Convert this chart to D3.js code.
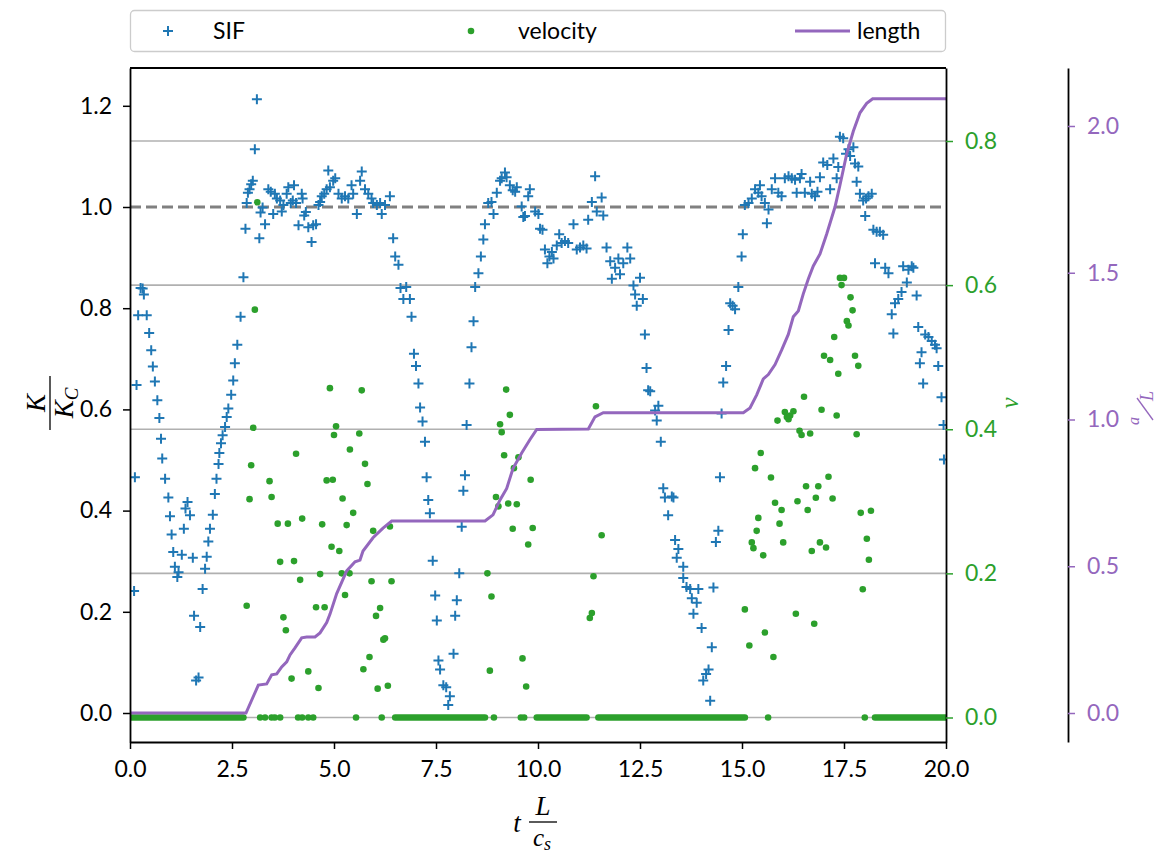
<!DOCTYPE html>
<html>
<head>
<meta charset="UTF-8">
<title>SIF, velocity and crack length</title>
<script src="https://cdnjs.cloudflare.com/ajax/libs/d3/7.8.5/d3.min.js"></script>
<style>
body { margin:0; background:#fff; }
text { font-family: Lato, "DejaVu Sans", sans-serif; font-size:23px; }
.math { font-family: "Liberation Serif", "DejaVu Serif", serif; font-style: italic; }
</style>
</head>
<body>
<div id="chart"></div>
<script>
// ---- data ----
// stress intensity factor K/Kc over time t*L/cs
var sif = [
[0.10,0.241],[0.12,0.466],[0.16,0.648],[0.20,0.786],[0.26,0.840],[0.31,0.839],[0.34,0.827],[0.41,0.786],[0.47,0.751],[0.52,0.717],
[0.56,0.685],[0.61,0.655],[0.67,0.618],[0.72,0.583],[0.76,0.542],[0.79,0.503],[0.86,0.463],[0.94,0.426],[0.98,0.389],[1.02,0.353],
[1.06,0.318],[1.10,0.289],[1.16,0.269],[1.19,0.278],[1.27,0.313],[1.32,0.364],[1.36,0.404],[1.41,0.417],[1.47,0.391],[1.54,0.307],
[1.57,0.192],[1.62,0.064],[1.68,0.070],[1.72,0.170],[1.78,0.245],[1.84,0.285],[1.88,0.309],[1.92,0.339],[1.96,0.364],[2.03,0.392],
[2.08,0.433],[2.12,0.463],[2.17,0.492],[2.19,0.514],[2.23,0.533],[2.27,0.549],[2.33,0.565],[2.37,0.585],[2.41,0.602],[2.48,0.629],
[2.53,0.657],[2.57,0.691],[2.63,0.728],[2.71,0.783],[2.78,0.861],[2.83,0.957],[2.86,1.008],[2.89,1.028],[2.93,1.035],[2.97,1.045],
[3.01,1.052],[3.06,1.114],[3.11,1.213],[3.17,0.938],[3.20,0.989],[3.25,0.999],[3.31,0.966],[3.39,1.035],[3.45,1.030],[3.51,0.986],
[3.55,1.026],[3.60,1.017],[3.68,1.013],[3.72,0.991],[3.76,1.004],[3.84,1.026],[3.88,1.039],[3.94,1.008],[3.99,1.013],[4.02,1.043],
[4.07,1.008],[4.13,0.964],[4.21,1.026],[4.23,1.017],[4.27,0.983],[4.31,0.990],[4.37,0.960],[4.45,0.931],[4.49,0.964],[4.56,0.966],
[4.62,1.004],[4.66,1.010],[4.70,1.021],[4.76,1.026],[4.82,1.035],[4.86,1.072],[4.90,1.039],[4.98,1.052],
[5.03,1.057],[5.11,1.026],[5.19,1.017],[5.27,1.021],[5.35,1.017],[5.43,1.043],[5.47,1.026],[5.56,0.986],[5.64,1.052],[5.68,1.070],
[5.76,1.035],[5.84,1.026],[5.92,1.017],[5.96,1.008],[6.05,1.004],[6.13,1.008],[6.17,0.986],[6.25,1.004],[6.37,1.021],[6.45,0.938],
[6.50,0.902],[6.58,0.886],[6.63,0.840],[6.70,0.818],[6.77,0.842],[6.86,0.818],[6.90,0.783],[6.96,0.710],[7.01,0.686],[7.07,0.651],
[7.11,0.604],[7.17,0.576],[7.23,0.536],[7.27,0.466],[7.31,0.421],[7.35,0.395],[7.42,0.301],[7.48,0.232],[7.52,0.183],[7.56,0.104],
[7.60,0.086],[7.68,0.055],[7.75,0.051],[7.80,0.016],[7.84,0.033],[7.93,0.117],[7.97,0.192],[8.01,0.223],[8.07,0.276],[8.13,0.368],
[8.17,0.439],[8.21,0.470],[8.25,0.569],[8.32,0.651],[8.37,0.723],[8.42,0.774],[8.46,0.842],[8.54,0.869],[8.60,0.902],[8.66,0.936],
[8.70,0.966],[8.78,1.008],[8.86,1.010],[8.91,0.986],[8.99,1.028],[9.07,1.052],[9.11,1.057],[9.19,1.068],[9.23,1.059],[9.31,1.043],
[9.38,1.033],[9.44,1.030],[9.48,1.039],[9.60,1.001],[9.64,0.980],[9.68,0.982],[9.76,1.021],[9.80,1.035],[9.93,0.991],[10.01,0.986],
[10.05,0.957],[10.11,0.955],[10.17,0.916],[10.23,0.889],[10.28,0.902],[10.34,0.911],[10.38,0.898],[10.46,0.924],[10.52,0.946],[10.58,0.929],
[10.66,0.933],[10.74,0.929],[10.87,0.966],[10.95,0.916],[11.03,0.920],[11.11,0.924],[11.19,0.918],[11.23,0.975],[11.32,1.010],[11.40,1.061],
[11.44,0.991],[11.56,1.019],[11.60,0.983],[11.68,0.920],[11.77,0.893],[11.81,0.858],[11.89,0.880],[11.97,0.898],[12.01,0.867],[12.09,0.889],
[12.19,0.920],[12.26,0.898],[12.34,0.845],[12.38,0.827],[12.42,0.805],[12.50,0.860],[12.57,0.818],[12.62,0.748],[12.66,0.682],[12.70,0.638],
[12.75,0.636],[12.87,0.598],[12.91,0.578],[12.95,0.607],[13.01,0.536],[13.07,0.444],[13.11,0.426],[13.19,0.391],[13.28,0.428],[13.32,0.426],
[13.36,0.342],[13.40,0.307],[13.44,0.324],[13.56,0.289],[13.56,0.267],[13.64,0.249],[13.73,0.245],[13.77,0.227],[13.81,0.196],[13.89,0.218],
[13.93,0.245],[14.01,0.168],[14.05,0.064],[14.12,0.077],[14.18,0.086],[14.22,0.024],[14.26,0.130],[14.30,0.248],[14.36,0.338],[14.42,0.360],
[14.46,0.466],[14.50,0.592],[14.54,0.653],[14.61,0.686],[14.67,0.757],[14.71,0.810],[14.77,0.805],[14.83,0.798],[14.91,0.842],
[14.99,0.902],[15.02,0.946],[15.07,1.004],[15.16,1.008],[15.24,1.017],[15.32,1.035],[15.40,1.028],[15.44,1.043],[15.48,1.021],[15.56,1.008],
[15.61,0.968],[15.65,0.995],[15.73,1.035],[15.81,1.057],[15.89,1.028],[15.97,1.021],[16.05,1.057],[16.14,1.061],[16.22,1.057],[16.30,1.054],
[16.34,1.028],[16.42,1.057],[16.46,1.065],[16.54,1.028],[16.67,1.050],[16.71,1.026],[16.79,1.021],[16.85,1.030],[16.91,1.059],[16.99,1.088],
[17.09,1.083],[17.16,1.035],[17.24,1.096],[17.32,1.057],[17.36,1.079],[17.40,1.139],[17.48,1.136],[17.55,1.105],[17.61,1.114],[17.65,1.101],
[17.73,1.118],[17.77,1.086],[17.81,1.050],[17.85,1.080],[17.89,1.026],[17.97,1.013],[18.02,0.982],[18.04,1.017],[18.10,1.021],[18.18,1.026],
[18.22,0.955],[18.26,0.889],[18.30,0.951],[18.38,0.951],[18.46,0.945],[18.51,0.880],[18.59,0.869],[18.67,0.788],[18.71,0.750],[18.75,0.810],
[18.83,0.818],[18.91,0.832],[18.95,0.883],[19.04,0.851],[19.08,0.876],[19.16,0.883],[19.20,0.880],[19.28,0.825],[19.32,0.763],[19.36,0.691],
[19.40,0.713],[19.44,0.651],[19.49,0.748],[19.57,0.743],[19.65,0.735],[19.73,0.728],[19.77,0.721],[19.81,0.686],[19.89,0.624],[19.94,0.569],
[19.95,0.501]
];

// crack tip velocity v (single dots)
var velocity = [
[2.86,0.155],[2.93,0.303],[2.97,0.350],[3.02,0.402],[3.06,0.566],[3.12,0.715],[3.42,0.328],[3.47,0.306],[3.62,0.269],[3.68,0.216],
[3.76,0.139],[3.82,0.121],[3.87,0.269],[3.96,0.054],[4.02,0.217],[4.07,0.366],[4.17,0.191],[4.22,0.276],[4.37,0.064],[4.56,0.153],
[4.62,0.041],[4.66,0.199],[4.71,0.268],[4.77,0.153],[4.82,0.329],
[4.90,0.457],[4.94,0.237],[4.97,0.330],[5.00,0.392],[5.05,0.404],[5.13,0.231],[5.19,0.200],[5.21,0.304],[5.27,0.170],[5.31,0.267],
[5.38,0.200],[5.39,0.372],[5.47,0.284],[5.62,0.394],[5.68,0.454],[5.72,0.067],[5.76,0.352],[5.82,0.324],[5.87,0.084],[5.92,0.189],
[5.96,0.259],[6.03,0.141],[6.07,0.040],[6.13,0.152],[6.21,0.108],[6.25,0.110],[6.32,0.044],[6.37,0.265],[6.41,0.189],
[8.76,0.200],[8.82,0.065],[8.86,0.168],[8.97,0.306],[9.03,0.293],[9.07,0.407],[9.11,0.396],[9.17,0.364],[9.22,0.455],[9.27,0.297],
[9.31,0.420],[9.38,0.262],[9.41,0.346],[9.48,0.296],[9.52,0.361],[9.62,0.082],[9.71,0.043],[9.76,0.240],[9.82,0.330],[9.87,0.263],
[11.27,0.138],[11.32,0.145],[11.36,0.196],[11.42,0.432],[11.56,0.253],
[15.07,0.150],[15.18,0.100],[15.24,0.243],[15.28,0.235],[15.32,0.346],[15.36,0.259],[15.40,0.277],[15.46,0.367],[15.52,0.225],[15.56,0.118],
[15.71,0.333],[15.77,0.084],[15.81,0.298],[15.87,0.412],[15.92,0.269],[15.97,0.288],[16.01,0.243],[16.05,0.424],[16.10,0.417],[16.14,0.414],
[16.18,0.419],[16.26,0.425],[16.32,0.144],[16.36,0.300],[16.41,0.398],[16.46,0.392],[16.52,0.445],[16.57,0.321],[16.61,0.288],[16.67,0.394],
[16.71,0.231],[16.77,0.130],[16.81,0.305],[16.87,0.321],[16.91,0.243],[16.95,0.427],[17.01,0.502],[17.06,0.236],[17.12,0.334],[17.16,0.496],
[17.22,0.304],[17.26,0.528],[17.32,0.419],[17.36,0.477],[17.40,0.610],[17.44,0.600],[17.50,0.610],[17.57,0.550],[17.61,0.544],[17.66,0.583],
[17.71,0.565],[17.77,0.502],[17.81,0.393],[17.85,0.488],[17.91,0.284],[17.96,0.178],[18.06,0.248],[18.11,0.219],[18.16,0.287],
[3.19,0],[3.31,0],[3.47,0],[3.55,0],[3.68,0],[4.12,0],[4.22,0],[4.37,0],[4.49,0],[5.54,0],[6.17,0],[8.92,0],[9.58,0],[9.66,0],[15.64,0],[18.01,0]
];

// time spans where the crack stands still (v = 0 dots packed edge to edge)
var velocityZeroRuns = [[0.00,2.78],[6.50,8.70],[9.97,11.19],[11.48,15.07],[18.26,20.00]];

// crack length a/L
var lengthCurve = [
[0,0],[2.843,0],[3.145,0.095],[3.35,0.099],[3.473,0.130],[3.596,0.133],[3.718,0.157],[3.841,0.174],[3.922,0.198],[4.044,0.222],
[4.208,0.256],[4.331,0.259],[4.534,0.259],[4.657,0.273],[4.821,0.308],[4.902,0.337],[5.066,0.407],[5.311,0.484],[5.515,0.515],[5.637,0.521],
[5.711,0.552],[5.956,0.597],[6.201,0.630],[6.414,0.654],[8.701,0.654],[8.897,0.675],[9.069,0.726],[9.233,0.765],[9.387,0.833],[9.60,0.886],
[9.804,0.932],[9.968,0.966],[11.233,0.968],[11.397,1.009],[11.60,1.023],[15.032,1.023],[15.196,1.039],[15.36,1.084],[15.522,1.138],[15.645,1.153],
[15.81,1.187],[15.973,1.237],[16.135,1.290],[16.257,1.350],[16.38,1.370],[16.502,1.428],[16.625,1.479],[16.748,1.523],[16.912,1.564],[17.076,1.632],
[17.279,1.724],[17.402,1.799],[17.566,1.905],[17.728,1.982],[17.892,2.045],[18.056,2.077],[18.203,2.093],[20,2.093]
];

var xTicks = [0, 2.5, 5, 7.5, 10, 12.5, 15, 17.5, 20];
var kTicks = [0, 0.2, 0.4, 0.6, 0.8, 1.0, 1.2];
var vTicks = [0, 0.2, 0.4, 0.6, 0.8];
var aTicks = [0, 0.5, 1.0, 1.5, 2.0];

// ---- layout ----
var width = 1160, height = 853;
var L = 130, R = 946, T = 68, B = 742;
var blue = "#1f77b4", green = "#2ca02c", purple = "#9467bd";

var x = d3.scaleLinear().domain([0, 20]).range([L, R]);
var yK = d3.scaleLinear().domain([-0.0573, 1.2747]).range([B, T]);
var yV = d3.scaleLinear().domain([-0.034, 0.9013]).range([B, T]);
var yA = d3.scaleLinear().domain([-0.0988, 2.1976]).range([B, T]);

var svg = d3.select("#chart").append("svg").attr("width", width).attr("height", height);

svg.append("defs").append("clipPath").attr("id", "plotclip")
  .append("rect").attr("x", L).attr("y", T).attr("width", R - L).attr("height", B - T);

var plot = svg.append("g").attr("clip-path", "url(#plotclip)");

// grid of the velocity axis
plot.selectAll(".grid").data(vTicks).enter().append("line")
  .attr("x1", L).attr("x2", R)
  .attr("y1", function(d){ return yV(d); }).attr("y2", function(d){ return yV(d); })
  .attr("stroke", "#b0b0b0").attr("stroke-width", 1.6);

// K = Kc reference
plot.append("line")
  .attr("x1", L).attr("x2", R).attr("y1", yK(1)).attr("y2", yK(1))
  .attr("stroke", "#808080").attr("stroke-width", 3).attr("stroke-dasharray", "11,5");

// SIF markers
plot.selectAll(".sif").data(sif).enter().append("path")
  .attr("transform", function(d){ return "translate(" + x(d[0]) + "," + yK(d[1]) + ")"; })
  .attr("d", "M-5,0H5M0,-5V5")
  .attr("stroke", blue).attr("stroke-width", 2).attr("fill", "none");

// velocity: resting spans and single dots
plot.selectAll(".zero").data(velocityZeroRuns).enter().append("line")
  .attr("x1", function(d){ return x(d[0]); }).attr("x2", function(d){ return x(d[1]); })
  .attr("y1", yV(0)).attr("y2", yV(0))
  .attr("stroke", green).attr("stroke-width", 6.6).attr("stroke-linecap", "round");

plot.selectAll(".vel").data(velocity).enter().append("circle")
  .attr("cx", function(d){ return x(d[0]); })
  .attr("cy", function(d){ return yV(d[1]); })
  .attr("r", 3.3).attr("fill", green);

// crack length
var line = d3.line().x(function(d){ return x(d[0]); }).y(function(d){ return yA(d[1]); });
plot.append("path").datum(lengthCurve)
  .attr("d", line).attr("fill", "none").attr("stroke", purple).attr("stroke-width", 3);

// ---- axes ----
function styleAxis(g, col, textCol) {
  g.select(".domain").attr("stroke", "#000").attr("stroke-width", 1.8);
  g.selectAll(".tick line").attr("stroke", col).attr("stroke-width", 1.5);
  g.selectAll(".tick text").attr("fill", textCol).style("font-size", "23px")
    .style("font-family", "Lato, 'DejaVu Sans', sans-serif");
}
var f1 = d3.format(".1f");

var gx = svg.append("g").attr("transform", "translate(0," + B + ")")
  .call(d3.axisBottom(x).tickValues(xTicks).tickFormat(f1).tickSize(7).tickSizeOuter(0).tickPadding(12));
styleAxis(gx, "#000", "#000");

var gk = svg.append("g").attr("transform", "translate(" + L + ",0)")
  .call(d3.axisLeft(yK).tickValues(kTicks).tickFormat(f1).tickSize(7).tickSizeOuter(0).tickPadding(11));
styleAxis(gk, "#000", "#000");

var gv = svg.append("g").attr("transform", "translate(" + R + ",0)")
  .call(d3.axisRight(yV).tickValues(vTicks).tickFormat(f1).tickSize(7).tickSizeOuter(0).tickPadding(12));
styleAxis(gv, green, green);

var ga = svg.append("g").attr("transform", "translate(1068,0)")
  .call(d3.axisRight(yA).tickValues(aTicks).tickFormat(f1).tickSize(7).tickSizeOuter(0).tickPadding(12));
styleAxis(ga, purple, purple);

svg.append("line").attr("x1", L).attr("x2", R).attr("y1", T).attr("y2", T)
  .attr("stroke", "#000").attr("stroke-width", 1.8);

// ---- axis labels ----
var kl = svg.append("g").attr("transform", "translate(50,403) rotate(-90)");
kl.append("text").attr("class", "math").attr("text-anchor", "middle").attr("y", -5)
  .style("font-size", "27px").text("K");
kl.append("line").attr("x1", -27).attr("x2", 27).attr("y1", 0).attr("y2", 0)
  .attr("stroke", "#000").attr("stroke-width", 1.3);
var kd = kl.append("text").attr("class", "math").attr("text-anchor", "middle").attr("y", 23)
  .style("font-size", "27px");
kd.append("tspan").text("K");
kd.append("tspan").attr("dy", 5).style("font-size", "19px").text("C");

var xl = svg.append("g");
xl.append("text").attr("class", "math").attr("x", 517).attr("y", 832)
  .attr("text-anchor", "middle").style("font-size", "27px").text("t");
xl.append("text").attr("class", "math").attr("x", 543).attr("y", 815)
  .attr("text-anchor", "middle").style("font-size", "27px").text("L");
xl.append("line").attr("x1", 529).attr("x2", 557).attr("y1", 822).attr("y2", 822)
  .attr("stroke", "#000").attr("stroke-width", 1.3);
var xd = xl.append("text").attr("class", "math").attr("x", 542).attr("y", 846)
  .attr("text-anchor", "middle").style("font-size", "25px");
xd.append("tspan").text("c");
xd.append("tspan").attr("dy", 4).style("font-size", "18px").text("s");

svg.append("g").attr("transform", "translate(1018,403) rotate(-90)")
  .append("text").attr("class", "math").attr("text-anchor", "middle")
  .attr("fill", green).style("font-size", "25px").text("v");

// a/L written as a small slanted fraction, rotated
var al = svg.append("g").attr("transform", "translate(1145,408) rotate(-90)");
al.append("text").attr("class", "math").attr("x", -13).attr("y", -6).attr("text-anchor", "middle")
  .attr("fill", purple).style("font-size", "16px").text("a");
al.append("line").attr("x1", -12).attr("y1", 8).attr("x2", 10).attr("y2", -8)
  .attr("stroke", purple).attr("stroke-width", 1.3);
al.append("text").attr("class", "math").attr("x", 12).attr("y", 8).attr("text-anchor", "middle")
  .attr("fill", purple).style("font-size", "18px").text("L");

// ---- legend ----
var lg = svg.append("g");
lg.append("rect").attr("x", 130.5).attr("y", 10.5).attr("width", 815).attr("height", 41)
  .attr("rx", 4).attr("fill", "#fff").attr("stroke", "#cccccc").attr("stroke-width", 1.3);
lg.append("path").attr("transform", "translate(168,31)").attr("d", "M-5,0H5M0,-5V5")
  .attr("stroke", blue).attr("stroke-width", 2);
lg.append("text").attr("x", 213).attr("y", 39).text("SIF");
lg.append("circle").attr("cx", 471).attr("cy", 31).attr("r", 3.3).attr("fill", green);
lg.append("text").attr("x", 518).attr("y", 39).text("velocity");
lg.append("line").attr("x1", 795).attr("x2", 850).attr("y1", 31).attr("y2", 31)
  .attr("stroke", purple).attr("stroke-width", 3);
lg.append("text").attr("x", 857).attr("y", 39).text("length");
</script>
</body>
</html>
